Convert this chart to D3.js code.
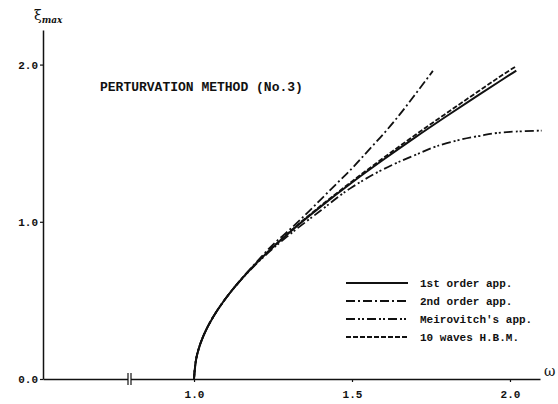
<!DOCTYPE html>
<html>
<head>
<meta charset="utf-8">
<script src="https://cdn.jsdelivr.net/npm/d3@7"></script>
<style>
  body { margin: 0; background: #fff; }
  text { font-family: "Liberation Mono", "DejaVu Sans Mono", monospace; fill: #111; }
</style>
</head>
<body>
<div id="chart"></div>
<script>
// values (omega, xi_max)
var omega1 = [1.0, 1.01, 1.03, 1.06, 1.1, 1.15, 1.2, 1.3, 1.4, 1.5, 1.6, 1.7, 1.8, 1.9, 2.0, 2.02];
var xi1st  = [0, 0.158, 0.276, 0.393, 0.512, 0.635, 0.742, 0.929, 1.095, 1.25, 1.396, 1.537, 1.673, 1.806, 1.936, 1.962];

var omega2 = [1.0, 1.01, 1.03, 1.06, 1.1, 1.15, 1.2, 1.25, 1.3, 1.35, 1.4, 1.45, 1.5, 1.55, 1.6, 1.65, 1.7, 1.756];
var xi2nd  = [0, 0.158, 0.276, 0.393, 0.512, 0.637, 0.748, 0.855, 0.945, 1.04, 1.14, 1.24, 1.34, 1.45, 1.56, 1.68, 1.81, 1.96];

var omegaM = [1.0, 1.01, 1.03, 1.06, 1.1, 1.15, 1.2, 1.3, 1.4, 1.5, 1.6, 1.7, 1.8, 1.9, 2.0, 2.1];
var xiMeir = [0, 0.158, 0.276, 0.393, 0.512, 0.633, 0.738, 0.915, 1.07, 1.22, 1.335, 1.425, 1.50, 1.545, 1.572, 1.58];

var omegaH = [1.0, 1.01, 1.03, 1.06, 1.1, 1.15, 1.2, 1.3, 1.4, 1.5, 1.6, 1.7, 1.8, 1.9, 2.0, 2.02];
var xiHBM  = [0, 0.158, 0.276, 0.393, 0.512, 0.635, 0.743, 0.932, 1.10, 1.257, 1.407, 1.552, 1.692, 1.83, 1.965, 1.99];

var xTicks = [1.0, 1.5, 2.0];
var yTicks = [0.0, 1.0, 2.0];
var legendLabels = ["1st order app.", "2nd order app.", "Meirovitch's app.", "10 waves H.B.M."];

var width = 558, height = 404;

var svg = d3.select("#chart")
  .append("svg")
    .attr("width", width)
    .attr("height", height);

// scales (left part of the omega axis is broken, see the mark near 130px)
var x = d3.scaleLinear().domain([0.522, 2.095]).range([43, 540]);
var y = d3.scaleLinear().domain([0, 2.22]).range([379, 30]);

/** x axis */
var xAxis = svg.append("g")
  .attr("transform", "translate(0," + y(0) + ")")
  .call(d3.axisBottom(x).tickValues(xTicks).tickFormat(d3.format(".1f")).tickSize(3).tickSizeOuter(0).tickPadding(8));
xAxis.selectAll("text").style("font-size", "11px").style("font-weight", "bold");

/** y axis */
var yAxis = svg.append("g")
  .attr("transform", "translate(" + x.range()[0] + ",0)")
  .call(d3.axisLeft(y).tickValues(yTicks).tickFormat(d3.format(".1f")).tickSize(3).tickSizeOuter(0).tickPadding(2));
yAxis.selectAll("text").style("font-size", "11px").style("font-weight", "bold");

svg.selectAll(".domain").attr("stroke", "#111").attr("stroke-width", 1.5);
svg.selectAll(".tick line").attr("stroke", "#111").attr("stroke-width", 1.2);

// axis break mark
svg.append("rect").attr("x", 128).attr("y", y(0) - 3).attr("width", 3).attr("height", 6).attr("fill", "#fff");
[128, 131].forEach(function(bx) {
  svg.append("line")
    .attr("x1", bx).attr("x2", bx)
    .attr("y1", y(0) - 6).attr("y2", y(0) + 6)
    .attr("stroke", "#111").attr("stroke-width", 1.2);
});

// axis titles
var yLab = svg.append("text").attr("x", 34).attr("y", 20).style("font-family", "'DejaVu Serif', serif");
yLab.append("tspan").text("\u03be").style("font-size", "14px");
yLab.append("tspan").text("max").attr("dy", 3).style("font-size", "9px").style("font-style", "italic").style("font-weight", "bold");

svg.append("text")
  .attr("x", 544).attr("y", 376)
  .style("font-family", "'DejaVu Serif', serif")
  .style("font-size", "14px")
  .text("\u03c9");

svg.append("text")
  .attr("x", 100).attr("y", 91)
  .style("font-size", "13px")
  .style("font-weight", "bold")
  .text("PERTURVATION METHOD (No.3)");

/** curves */
var series = [
  {name: legendLabels[0], xs: omega1, ys: xi1st, dash: null, w: 2},
  {name: legendLabels[1], xs: omega2, ys: xi2nd, dash: "9,3,2,3", w: 1.8},
  {name: legendLabels[2], xs: omegaM, ys: xiMeir, dash: "9,3,2,2,2,3", w: 1.8},
  {name: legendLabels[3], xs: omegaH, ys: xiHBM, dash: "5,2", w: 1.8}
];

var line = d3.line()
  .x(function(d) { return x(d[0]); })
  .y(function(d) { return y(d[1]); })
  .curve(d3.curveMonotoneY);

svg.selectAll("myLines")
  .data(series)
  .enter()
  .append("path")
    .attr("d", function(d) { return line(d.xs.map(function(v, i) { return [v, d.ys[i]]; })); })
    .attr("stroke", "#111")
    .attr("stroke-width", function(d) { return d.w; })
    .attr("stroke-dasharray", function(d) { return d.dash; })
    .attr("fill", "none");

/** legend */
var legend = svg.selectAll("myLegend")
  .data(series)
  .enter()
  .append("g")
    .attr("transform", function(d, i) { return "translate(346," + (283 + i * 18) + ")"; });

legend.append("line")
  .attr("x1", 0).attr("x2", 62)
  .attr("stroke", "#111")
  .attr("stroke-width", function(d) { return d.w; })
  .attr("stroke-dasharray", function(d) { return d.dash; });

legend.append("text")
  .attr("x", 74).attr("y", 4)
  .style("font-size", "11px")
  .style("font-weight", "bold")
  .text(function(d) { return d.name; });
</script>
</body>
</html>
